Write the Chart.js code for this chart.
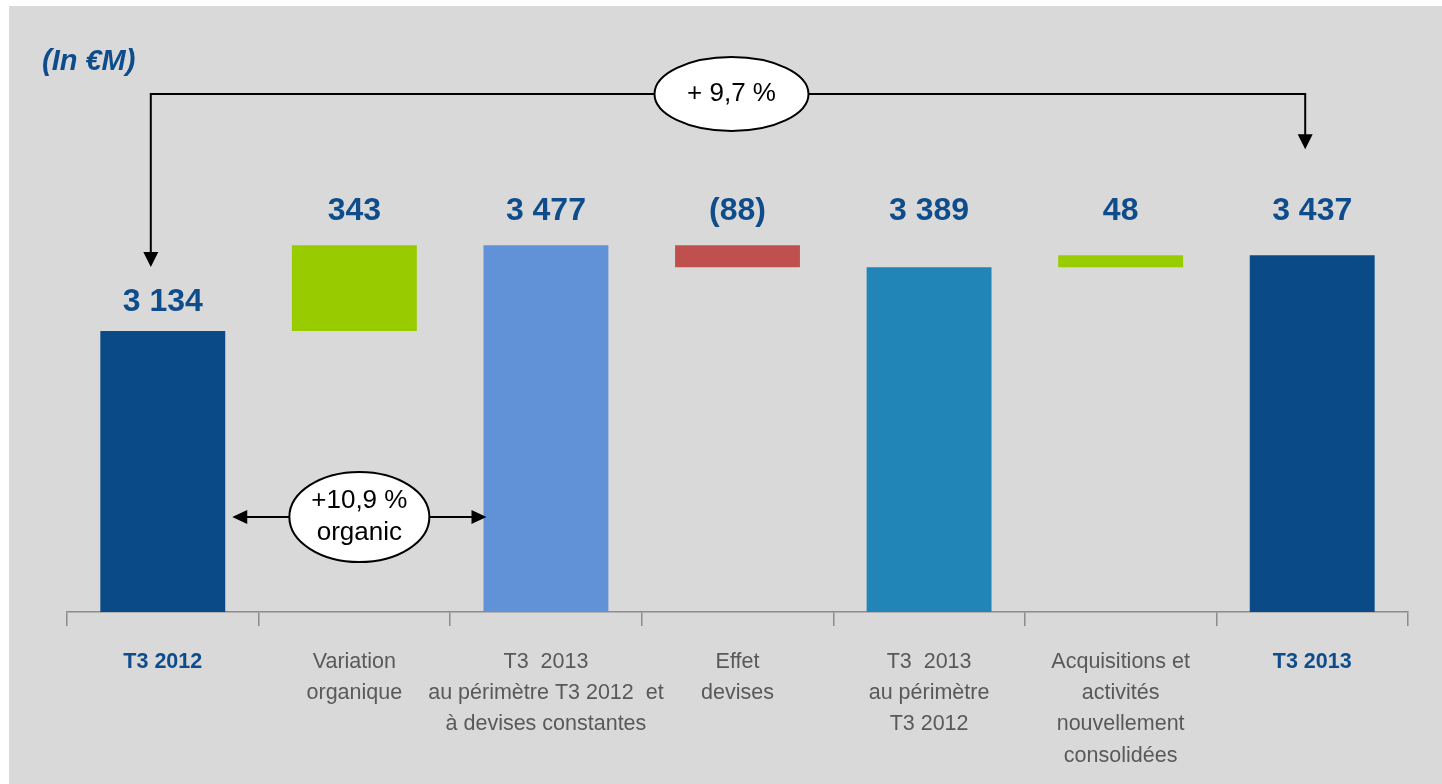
<!DOCTYPE html>
<html><head><meta charset="utf-8">
<script src="https://cdn.jsdelivr.net/npm/chart.js@4"></script>
<style>html,body{margin:0;padding:0;background:#fff}canvas{display:block}</style>
</head><body>
<canvas id="c" width="1442" height="784"></canvas>
<script>
const categories = [
  ["T3 2012"],
  ["Variation", "organique"],
  ["T3  2013", "au périmètre T3 2012  et", "à devises constantes"],
  ["Effet", "devises"],
  ["T3  2013", "au périmètre", "T3 2012"],
  ["Acquisitions et", "activités", "nouvellement", "consolidées"],
  ["T3 2013"]
];
const values = [3134, 343, 3477, -88, 3389, 48, 3437];
const isTotal = [true, false, true, false, true, false, true];
const valueLabels = ["3 134", "343", "3 477", "(88)", "3 389", "48", "3 437"];
const barColors = ["#0a4a86", "#99cc00", "#6192d8", "#c0504d", "#2185b8", "#99cc00", "#0a4a86"];
const totalGrowthLabel = ["+ 9,7 %"];
const organicGrowthLabel = ["+10,9 %", "organic"];
const unitLabel = "(In €M)";

// build floating bars from the values
const floating = [];
let running = 0;
values.forEach((v, i) => {
  if (isTotal[i]) { floating.push([0, v]); running = v; }
  else { floating.push([running, running + v]); running += v; }
});

const FONT = '"Liberation Sans", Arial, sans-serif';
const BLUE = '#0e4c8b';

function arrowHead(ctx, x, y, dir, len, half) {
  ctx.beginPath();
  if (dir === 'down') { ctx.moveTo(x, y); ctx.lineTo(x - half, y - len); ctx.lineTo(x + half, y - len); }
  if (dir === 'left') { ctx.moveTo(x, y); ctx.lineTo(x + len, y - half); ctx.lineTo(x + len, y + half); }
  if (dir === 'right') { ctx.moveTo(x, y); ctx.lineTo(x - len, y - half); ctx.lineTo(x - len, y + half); }
  ctx.closePath();
  ctx.fill();
}
function ellipseLabel(ctx, cx, cy, rx, ry, lines, size, lh) {
  ctx.beginPath();
  ctx.ellipse(cx, cy, rx, ry, 0, 0, Math.PI * 2);
  ctx.fillStyle = '#fff'; ctx.fill();
  ctx.lineWidth = 2; ctx.strokeStyle = '#000'; ctx.stroke();
  ctx.fillStyle = '#000';
  ctx.font = size + 'px ' + FONT;
  ctx.textAlign = 'center'; ctx.textBaseline = 'middle';
  const start = cy - (lines.length - 1) * lh / 2;
  lines.forEach((t, k) => ctx.fillText(t, cx, start + k * lh));
}

const decor = {
  id: 'decor',
  beforeDraw(chart) {
    const ctx = chart.ctx;
    ctx.save();
    ctx.fillStyle = '#ffffff';
    ctx.fillRect(0, 0, chart.width, chart.height);
    ctx.fillStyle = '#d9d9d9';
    ctx.fillRect(9, 6, chart.width - 9, chart.height - 6);
    ctx.fillStyle = BLUE;
    ctx.font = 'italic bold 29px ' + FONT;
    ctx.textAlign = 'left'; ctx.textBaseline = 'middle';
    ctx.fillText(unitLabel, 42, 62);
    ctx.restore();
  },
  afterDatasetsDraw(chart) {
    const ctx = chart.ctx;
    const meta = chart.getDatasetMeta(0);
    const ys = chart.scales.y;
    const area = chart.chartArea;
    ctx.save();
    // value labels
    const topRow = Math.max(...floating.map(d => Math.max(d[0], d[1])));
    ctx.font = 'bold 32px ' + FONT;
    ctx.fillStyle = BLUE;
    ctx.textAlign = 'center'; ctx.textBaseline = 'middle';
    meta.data.forEach((bar, i) => {
      const hi = Math.max(...floating[i]);
      const y = i === 0 ? ys.getPixelForValue(hi) - 29 : ys.getPixelForValue(topRow) - 34;
      ctx.fillText(valueLabels[i], bar.x, y);
    });

    // total growth connector
    const b0 = meta.data[0], b1 = meta.data[1], b2 = meta.data[2], b3 = meta.data[3], b6 = meta.data[6];
    const lineY = 94;
    const lx = b0.x - 12, rx = b6.x - 7;
    const leftTip = ys.getPixelForValue(values[0]) - 64;
    const rightTip = ys.getPixelForValue(topRow) - 96;
    ctx.strokeStyle = '#000'; ctx.fillStyle = '#000'; ctx.lineWidth = 2;
    ctx.beginPath();
    ctx.moveTo(lx, leftTip - 10); ctx.lineTo(lx, lineY); ctx.lineTo(rx, lineY); ctx.lineTo(rx, rightTip - 10);
    ctx.stroke();
    arrowHead(ctx, lx, leftTip, 'down', 15, 7.5);
    arrowHead(ctx, rx, rightTip, 'down', 15, 7.5);
    ellipseLabel(ctx, b3.x - 6, lineY, 77, 37, totalGrowthLabel, 26, 32);

    // organic growth connector
    const oy = area.bottom - 95;
    const l2 = b0.x + b0.width / 2 + 7, r2 = b2.x - b2.width / 2 + 3;
    ctx.strokeStyle = '#000'; ctx.fillStyle = '#000'; ctx.lineWidth = 2;
    ctx.beginPath(); ctx.moveTo(l2 + 10, oy); ctx.lineTo(r2 - 10, oy); ctx.stroke();
    arrowHead(ctx, l2, oy, 'left', 15, 7);
    arrowHead(ctx, r2, oy, 'right', 15, 7);
    ellipseLabel(ctx, b1.x + 5, oy, 70, 45, organicGrowthLabel, 26, 32);
    ctx.restore();
  }
};

new Chart(document.getElementById('c'), {
  type: 'bar',
  data: {
    labels: categories,
    datasets: [{
      data: floating,
      backgroundColor: barColors,
      borderWidth: 0,
      categoryPercentage: 1,
      barPercentage: 0.652
    }]
  },
  options: {
    responsive: false,
    animation: false,
    events: [],
    layout: { padding: { left: 67, right: 34, top: 12, bottom: 0 } },
    plugins: { legend: { display: false }, tooltip: { enabled: false } },
    scales: {
      x: {
        offset: true,
        grid: { display: true, drawOnChartArea: false, drawTicks: true, tickLength: 14, color: '#8c8c8c', lineWidth: 1.5, offset: true },
        border: { display: true, color: '#8c8c8c', width: 1.5 },
        ticks: {
          padding: 20,
          maxRotation: 0,
          autoSkip: false,
          color: (c) => (c.index === 0 || c.index === 6) ? '#0e4c8b' : '#595959',
          font: (c) => ({ family: FONT, size: 21.5, weight: (c.index === 0 || c.index === 6) ? 'bold' : 'normal', lineHeight: 1.46 })
        },
        afterFit: (s) => { s.height = 172; }
      },
      y: {
        display: false,
        min: 2010,
        max: 4410
      }
    }
  },
  plugins: [decor]
});
</script>
</body></html>
